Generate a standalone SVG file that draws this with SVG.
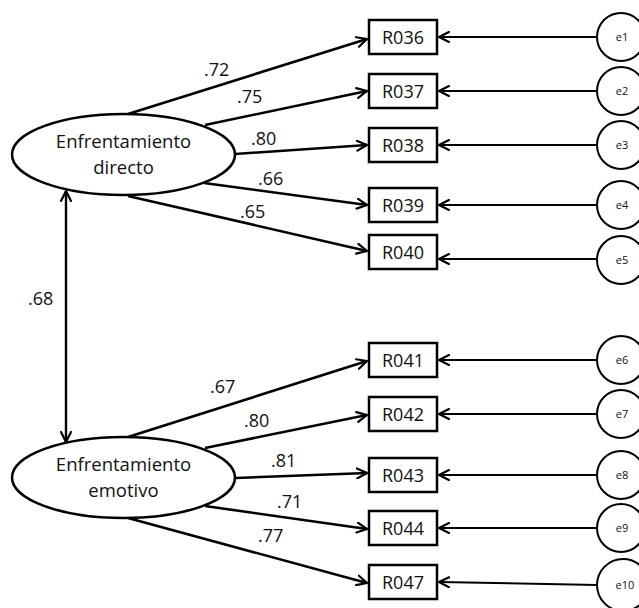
<svg xmlns="http://www.w3.org/2000/svg" width="639" height="608" viewBox="0 0 639 608">
<defs>
<marker id="ah" viewBox="0 0 12 12" refX="11" refY="6" markerWidth="12" markerHeight="12" markerUnits="userSpaceOnUse" orient="auto-start-reverse">
<path d="M1,1 L11,6 L1,11" fill="none" stroke="#000" stroke-width="2.2" stroke-linecap="round" stroke-linejoin="round"/>
</marker>
</defs>
<style>
.lat{fill:#fff;stroke:#000;stroke-width:2.5}
.box{fill:#fff;stroke:#000;stroke-width:2.5}
.err{fill:#fff;stroke:#000;stroke-width:2}
.t{font-family:"Open Sans","Liberation Sans",sans-serif;fill:#111}
.lt{font-size:18.5px;text-anchor:middle}
.bt{font-size:18px;text-anchor:middle}
.et{font-size:11px;text-anchor:middle}
.ct{font-size:18px}
.c{stroke:#000;stroke-width:2.6;fill:none;marker-end:url(#ah)}
.ce{stroke:#000;stroke-width:2;fill:none;marker-end:url(#ah)}
.cd{stroke:#000;stroke-width:2.4;fill:none;marker-end:url(#ah);marker-start:url(#ah)}
</style>
<rect width="639" height="608" fill="#fff"/>
<g id="connectors">
<line class="c" x1="128" y1="114" x2="367" y2="39"/>
<line class="c" x1="205" y1="125" x2="367" y2="91"/>
<line class="c" x1="235" y1="154" x2="367" y2="145"/>
<line class="c" x1="204" y1="183" x2="367" y2="205"/>
<line class="c" x1="128" y1="196" x2="367" y2="251"/>
<line class="c" x1="128" y1="437" x2="367" y2="361"/>
<line class="c" x1="205" y1="448" x2="367" y2="415"/>
<line class="c" x1="235" y1="478" x2="367" y2="473"/>
<line class="c" x1="205" y1="506" x2="367" y2="529"/>
<line class="c" x1="128" y1="518" x2="367" y2="583"/>
<line class="ce" x1="597" y1="37" x2="439" y2="37"/>
<line class="ce" x1="597" y1="91" x2="439" y2="91"/>
<line class="ce" x1="597" y1="145" x2="439" y2="145"/>
<line class="ce" x1="597" y1="205" x2="439" y2="205"/>
<line class="ce" x1="597" y1="259" x2="439" y2="259"/>
<line class="ce" x1="597" y1="360" x2="439" y2="360"/>
<line class="ce" x1="597" y1="414" x2="439" y2="414"/>
<line class="ce" x1="597" y1="475" x2="439" y2="475"/>
<line class="ce" x1="597" y1="528" x2="439" y2="528"/>
<line class="ce" x1="597" y1="585" x2="439" y2="582"/>
<line class="cd" x1="66" y1="191" x2="66" y2="442"/>
<g class="t ct">
<text x="204" y="76">.72</text>
<text x="237" y="103">.75</text>
<text x="251" y="145">.80</text>
<text x="258" y="185">.66</text>
<text x="240" y="218">.65</text>
<text x="28" y="305">.68</text>
<text x="210" y="393">.67</text>
<text x="244" y="427">.80</text>
<text x="271" y="467">.81</text>
<text x="277" y="508">.71</text>
<text x="258" y="542">.77</text>
</g>
</g>
<g id="F1"><ellipse class="lat" cx="123.5" cy="154.5" rx="111.5" ry="40.5"/><text class="t lt" x="123.5" y="148">Enfrentamiento</text><text class="t lt" x="123.5" y="174">directo</text></g>
<g id="F2"><ellipse class="lat" cx="123.5" cy="477.5" rx="111.5" ry="40.5"/><text class="t lt" x="123.5" y="471">Enfrentamiento</text><text class="t lt" x="123.5" y="497">emotivo</text></g>
<g id="R036"><rect class="box" x="369" y="20" width="68" height="34"/><text class="t bt" x="403" y="44">R036</text></g>
<g id="R037"><rect class="box" x="369" y="74" width="68" height="34"/><text class="t bt" x="403" y="98">R037</text></g>
<g id="R038"><rect class="box" x="369" y="128" width="68" height="34"/><text class="t bt" x="403" y="152">R038</text></g>
<g id="R039"><rect class="box" x="369" y="188" width="68" height="34"/><text class="t bt" x="403" y="212">R039</text></g>
<g id="R040"><rect class="box" x="369" y="235" width="68" height="34"/><text class="t bt" x="403" y="259">R040</text></g>
<g id="R041"><rect class="box" x="369" y="343" width="68" height="34"/><text class="t bt" x="403" y="367">R041</text></g>
<g id="R042"><rect class="box" x="369" y="397" width="68" height="34"/><text class="t bt" x="403" y="421">R042</text></g>
<g id="R043"><rect class="box" x="369" y="458" width="68" height="34"/><text class="t bt" x="403" y="482">R043</text></g>
<g id="R044"><rect class="box" x="369" y="511" width="68" height="34"/><text class="t bt" x="403" y="535">R044</text></g>
<g id="R047"><rect class="box" x="369" y="565" width="68" height="34"/><text class="t bt" x="403" y="589">R047</text></g>
<g id="e1"><circle class="err" cx="621" cy="37" r="24"/><text class="t et" x="622" y="41">e1</text></g>
<g id="e2"><circle class="err" cx="621" cy="91" r="24"/><text class="t et" x="622" y="95">e2</text></g>
<g id="e3"><circle class="err" cx="621" cy="145" r="24"/><text class="t et" x="622" y="149">e3</text></g>
<g id="e4"><circle class="err" cx="621" cy="205" r="24"/><text class="t et" x="622" y="209">e4</text></g>
<g id="e5"><circle class="err" cx="621" cy="260" r="24"/><text class="t et" x="622" y="264">e5</text></g>
<g id="e6"><circle class="err" cx="621" cy="360" r="24"/><text class="t et" x="622" y="364">e6</text></g>
<g id="e7"><circle class="err" cx="621" cy="414" r="24"/><text class="t et" x="622" y="418">e7</text></g>
<g id="e8"><circle class="err" cx="621" cy="475" r="24"/><text class="t et" x="622" y="479">e8</text></g>
<g id="e9"><circle class="err" cx="621" cy="528" r="24"/><text class="t et" x="622" y="532">e9</text></g>
<g id="e10"><circle class="err" cx="623" cy="585" r="26"/><text class="t et" x="625" y="589">e10</text></g>
</svg>
